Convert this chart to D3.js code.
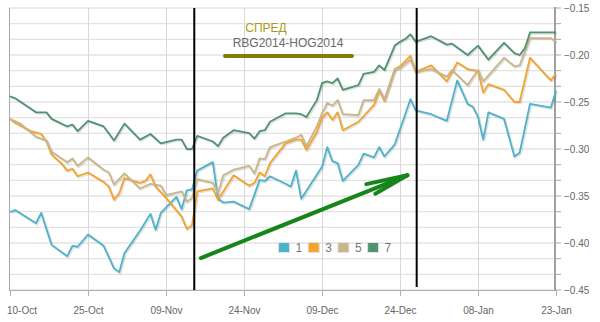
<!DOCTYPE html>
<html><head><meta charset="utf-8">
<script src="https://cdn.jsdelivr.net/npm/d3@7"></script>
<style>
html,body{margin:0;padding:0;background:#fff;}
svg{display:block;font-family:"Liberation Sans",Arial,sans-serif;}
</style></head>
<body>
<svg id="chart" width="600" height="322"></svg>
<script>
// ---------------- data ----------------
const seriesNames = ["1", "3", "5", "7"];
const seriesColors = ["#4cb3cd", "#f5a32c", "#c9b689", "#4f9471"];

const series1 = [
 ["2013-10-10",-0.367],["2013-10-11",-0.365],["2013-10-15",-0.379],["2013-10-16",-0.368],["2013-10-18",-0.402],
 ["2013-10-21",-0.414],["2013-10-22",-0.403],["2013-10-23",-0.404],["2013-10-25",-0.391],["2013-10-28",-0.403],
 ["2013-10-30",-0.427],["2013-10-31",-0.431],["2013-11-01",-0.411],["2013-11-04",-0.387],["2013-11-06",-0.369],
 ["2013-11-07",-0.386],["2013-11-08",-0.368],["2013-11-11",-0.351],["2013-11-12",-0.364],["2013-11-13",-0.344],
 ["2013-11-14",-0.343],["2013-11-15",-0.323],["2013-11-18",-0.314],["2013-11-19",-0.353],["2013-11-20",-0.357],
 ["2013-11-22",-0.356],["2013-11-25",-0.364],["2013-11-27",-0.333],["2013-11-28",-0.334],["2013-11-29",-0.329],
 ["2013-12-02",-0.337],["2013-12-03",-0.340],["2013-12-04",-0.323],["2013-12-05",-0.353],["2013-12-09",-0.319],
 ["2013-12-10",-0.298],["2013-12-11",-0.313],["2013-12-12",-0.315],["2013-12-13",-0.334],["2013-12-16",-0.317],
 ["2013-12-17",-0.305],["2013-12-19",-0.309],["2013-12-20",-0.298],["2013-12-21",-0.308],["2013-12-23",-0.295],
 ["2013-12-26",-0.247],["2013-12-27",-0.259],["2013-12-30",-0.263],["2014-01-02",-0.270],["2014-01-04",-0.227],
 ["2014-01-06",-0.252],["2014-01-07",-0.255],["2014-01-08",-0.266],["2014-01-09",-0.290],["2014-01-10",-0.261],
 ["2014-01-13",-0.268],["2014-01-15",-0.308],["2014-01-16",-0.304],["2014-01-18",-0.252],["2014-01-22",-0.256],
 ["2014-01-23",-0.238]
];
const series3 = [
 ["2013-10-10",-0.268],["2013-10-11",-0.272],["2013-10-14",-0.281],["2013-10-16",-0.284],["2013-10-17",-0.292],
 ["2013-10-18",-0.306],["2013-10-20",-0.316],["2013-10-21",-0.323],["2013-10-22",-0.321],["2013-10-23",-0.329],
 ["2013-10-25",-0.325],["2013-10-28",-0.335],["2013-10-29",-0.340],["2013-10-30",-0.354],["2013-10-31",-0.347],
 ["2013-11-01",-0.331],["2013-11-04",-0.336],["2013-11-05",-0.334],["2013-11-06",-0.327],["2013-11-07",-0.340],
 ["2013-11-09",-0.352],["2013-11-12",-0.372],["2013-11-13",-0.385],["2013-11-14",-0.381],["2013-11-15",-0.345],
 ["2013-11-18",-0.342],["2013-11-19",-0.354],["2013-11-22",-0.328],["2013-11-25",-0.339],["2013-11-26",-0.336],
 ["2013-11-27",-0.325],["2013-11-28",-0.329],["2013-11-29",-0.315],["2013-12-02",-0.294],["2013-12-04",-0.290],
 ["2013-12-05",-0.290],["2013-12-06",-0.301],["2013-12-08",-0.282],["2013-12-09",-0.267],["2013-12-10",-0.261],
 ["2013-12-11",-0.269],["2013-12-12",-0.261],["2013-12-13",-0.280],["2013-12-16",-0.271],["2013-12-19",-0.253],
 ["2013-12-20",-0.238],["2013-12-21",-0.249],["2013-12-23",-0.215],["2013-12-24",-0.212],["2013-12-26",-0.201],
 ["2013-12-27",-0.218],["2013-12-30",-0.211],["2014-01-02",-0.228],["2014-01-04",-0.208],["2014-01-06",-0.215],
 ["2014-01-08",-0.217],["2014-01-09",-0.240],["2014-01-10",-0.231],["2014-01-13",-0.237],["2014-01-15",-0.250],
 ["2014-01-16",-0.250],["2014-01-18",-0.203],["2014-01-22",-0.227],["2014-01-23",-0.220]
];
const series5 = [
 ["2013-10-10",-0.268],["2013-10-12",-0.273],["2013-10-15",-0.287],["2013-10-17",-0.291],["2013-10-18",-0.303],
 ["2013-10-21",-0.314],["2013-10-22",-0.310],["2013-10-23",-0.318],["2013-10-25",-0.309],["2013-10-28",-0.322],
 ["2013-10-29",-0.325],["2013-10-30",-0.338],["2013-11-01",-0.326],["2013-11-04",-0.342],["2013-11-06",-0.337],
 ["2013-11-08",-0.339],["2013-11-09",-0.349],["2013-11-12",-0.345],["2013-11-13",-0.356],["2013-11-14",-0.352],
 ["2013-11-15",-0.332],["2013-11-18",-0.336],["2013-11-19",-0.347],["2013-11-20",-0.328],["2013-11-22",-0.322],
 ["2013-11-25",-0.318],["2013-11-26",-0.326],["2013-11-27",-0.310],["2013-11-28",-0.311],["2013-11-29",-0.298],
 ["2013-12-02",-0.292],["2013-12-04",-0.288],["2013-12-05",-0.285],["2013-12-06",-0.297],["2013-12-08",-0.276],
 ["2013-12-09",-0.262],["2013-12-10",-0.251],["2013-12-11",-0.254],["2013-12-12",-0.248],["2013-12-13",-0.263],
 ["2013-12-16",-0.264],["2013-12-17",-0.248],["2013-12-19",-0.248],["2013-12-20",-0.236],["2013-12-21",-0.247],
 ["2013-12-23",-0.215],["2013-12-24",-0.214],["2013-12-26",-0.205],["2013-12-27",-0.218],["2013-12-30",-0.215],
 ["2014-01-02",-0.223],["2014-01-03",-0.216],["2014-01-06",-0.232],["2014-01-08",-0.216],["2014-01-09",-0.228],
 ["2014-01-13",-0.203],["2014-01-15",-0.212],["2014-01-16",-0.211],["2014-01-18",-0.182],["2014-01-22",-0.182],
 ["2014-01-23",-0.186]
];
const series7 = [
 ["2013-10-10",-0.244],["2013-10-11",-0.246],["2013-10-15",-0.261],["2013-10-17",-0.261],["2013-10-18",-0.268],
 ["2013-10-21",-0.276],["2013-10-22",-0.274],["2013-10-23",-0.281],["2013-10-25",-0.270],["2013-10-28",-0.276],
 ["2013-10-30",-0.291],["2013-11-01",-0.273],["2013-11-04",-0.290],["2013-11-06",-0.284],["2013-11-08",-0.294],
 ["2013-11-11",-0.290],["2013-11-12",-0.290],["2013-11-13",-0.300],["2013-11-14",-0.300],["2013-11-15",-0.286],
 ["2013-11-18",-0.292],["2013-11-19",-0.297],["2013-11-20",-0.288],["2013-11-22",-0.280],["2013-11-25",-0.283],
 ["2013-11-26",-0.289],["2013-11-27",-0.281],["2013-11-28",-0.280],["2013-11-29",-0.271],["2013-12-02",-0.262],
 ["2013-12-04",-0.262],["2013-12-05",-0.263],["2013-12-06",-0.266],["2013-12-08",-0.248],["2013-12-09",-0.230],
 ["2013-12-10",-0.228],["2013-12-11",-0.230],["2013-12-12",-0.225],["2013-12-13",-0.237],["2013-12-16",-0.232],
 ["2013-12-17",-0.220],["2013-12-19",-0.218],["2013-12-20",-0.211],["2013-12-21",-0.216],["2013-12-22",-0.203],
 ["2013-12-23",-0.190],["2013-12-24",-0.186],["2013-12-25",-0.183],["2013-12-26",-0.178],["2013-12-27",-0.186],
 ["2013-12-30",-0.180],["2014-01-02",-0.189],["2014-01-03",-0.188],["2014-01-06",-0.200],["2014-01-08",-0.190],
 ["2014-01-10",-0.205],["2014-01-13",-0.187],["2014-01-15",-0.198],["2014-01-16",-0.200],["2014-01-17",-0.193],
 ["2014-01-18",-0.176],["2014-01-23",-0.176]
];

const xDomain = ["2013-10-10", "2014-01-23"];
const xTickDates = ["2013-10-10","2013-10-25","2013-11-09","2013-11-24","2013-12-09","2013-12-24","2014-01-08","2014-01-23"];
const yDomain = [-0.45, -0.15];
const yTickLabels = [-0.15, -0.20, -0.25, -0.30, -0.35, -0.40, -0.45];
const yMinorStep = 0.05 / 3;
const markerDates = ["2013-11-14T10:30", "2013-12-27T05:00"];
const arrowFrom = ["2013-11-15T17:00", -0.416];
const arrowTo = ["2013-12-25T10:00", -0.328];
const titleLines = ["СПРЕД", "RBG2014-HOG2014"];

// ---------------- drawing ----------------
const parseD = d3.timeParse("%Y-%m-%d");
const parseDT = d3.timeParse("%Y-%m-%dT%H:%M");
const svg = d3.select("#chart");
const PL = 10, PR = 556, PT = 8, PB = 290;

const x = d3.scaleTime().domain(xDomain.map(parseD)).range([PL, PR]);
const y = d3.scaleLinear().domain(yDomain).range([PB, PT]);

const gridVals = d3.range(0, 19).map(i => yDomain[0] + i * yMinorStep);

// horizontal grid
svg.append("g").selectAll("line").data(gridVals).join("line")
  .attr("x1", PL - 1).attr("x2", PR - 1)
  .attr("y1", d => y(d)).attr("y2", d => y(d))
  .attr("stroke", "#e3e3e3").attr("stroke-width", 1.3);

// vertical grid
svg.append("g").selectAll("line").data(xTickDates.slice(1, -1).map(parseD)).join("line")
  .attr("x1", d => Math.round(x(d)) + 0.5).attr("x2", d => Math.round(x(d)) + 0.5)
  .attr("y1", PT).attr("y2", PB)
  .attr("stroke", "#d8d8d8").attr("stroke-width", 1);

// left border and bottom axis line
svg.append("line").attr("x1", 9.5).attr("x2", 9.5).attr("y1", PT).attr("y2", PB + 1)
  .attr("stroke", "#a8a8a8");
svg.append("line").attr("x1", 9).attr("x2", PR).attr("y1", PB + 0.5).attr("y2", PB + 0.5)
  .attr("stroke", "#b0b0b0");

// x axis
const xAxis = d3.axisBottom(x).tickValues(xTickDates.map(parseD))
  .tickFormat(d3.timeFormat("%d-%b")).tickSize(6).tickPadding(11);
const gx = svg.append("g").attr("transform", `translate(0,${PB})`).call(xAxis);
gx.select(".domain").remove();
gx.selectAll(".tick line").attr("stroke", "#b0b0b0");
gx.selectAll(".tick text").attr("fill", "#666").attr("font-size", 10)
  .attr("font-family", '"Liberation Sans",Arial,sans-serif');
gx.selectAll(".tick text").each(function() {
  const t = d3.select(this);
  const bb = this.getBBox();
  const tr = this.parentNode.getAttribute("transform");
  const tx = +tr.match(/translate\(([-\d.]+)/)[1];
  if (tx + bb.x < 7) t.attr("x", 7 - tx).attr("text-anchor", "start");
});

// right y axis
svg.append("line").attr("x1", 555).attr("x2", 555).attr("y1", PT - 1).attr("y2", PB + 1)
  .attr("stroke", "#a0a0a0").attr("stroke-width", 2);
svg.append("g").selectAll("line").data(gridVals).join("line")
  .attr("x1", 555).attr("x2", 561)
  .attr("y1", d => y(d)).attr("y2", d => y(d))
  .attr("stroke", "#a8a8a8").attr("stroke-width", 1);
svg.append("g").selectAll("text").data(yTickLabels).join("text")
  .attr("x", 564).attr("y", d => y(d)).attr("dy", "0.35em")
  .attr("font-size", 10).attr("fill", "#666")
  .text(d => d3.format(".2f")(d));

// series
const allSeries = [series1, series3, series5, series7];
const line = d3.line().x(d => x(parseD(d[0]))).y(d => y(d[1]));
const gLines = svg.append("g");
allSeries.forEach((s, i) => {
  gLines.append("path").attr("d", line(s)).attr("fill", "none")
    .attr("stroke", "#000").attr("stroke-opacity", 0.12).attr("stroke-width", 2.5)
    .attr("stroke-linejoin", "round").attr("transform", "translate(1,1)");
});
allSeries.forEach((s, i) => {
  gLines.append("path").attr("d", line(s)).attr("fill", "none")
    .attr("stroke", seriesColors[i]).attr("stroke-width", 1.8)
    .attr("stroke-linejoin", "round");
});

// black vertical markers
markerDates.forEach((m, i) => {
  const mx = x(parseDT(m));
  svg.append("line").attr("x1", mx).attr("x2", mx)
    .attr("y1", PT).attr("y2", i === 0 ? PB : PB - 3)
    .attr("stroke", "#000").attr("stroke-width", 2);
});

// title
svg.append("text").attr("x", 266).attr("y", 32).attr("text-anchor", "middle")
  .attr("font-size", 12).attr("fill", "#a99b17").text(titleLines[0]);
svg.append("text").attr("x", 288).attr("y", 46.5).attr("text-anchor", "middle")
  .attr("font-size", 12).attr("fill", "#6a6a6a").text(titleLines[1]);
svg.append("line").attr("x1", 225).attr("x2", 352).attr("y1", 56).attr("y2", 56)
  .attr("stroke", "#837c00").attr("stroke-width", 4).attr("stroke-linecap", "round");

// arrow
const ax1 = x(parseDT(arrowFrom[0])), ay1 = y(arrowFrom[1]);
const ax2 = x(parseDT(arrowTo[0])), ay2 = y(arrowTo[1]);
const ang = Math.atan2(ay1 - ay2, ax1 - ax2);
const gA = svg.append("g").attr("stroke", "#17861a").attr("stroke-width", 4)
  .attr("stroke-linecap", "round").attr("fill", "none");
gA.append("line").attr("x1", ax1).attr("y1", ay1).attr("x2", ax2).attr("y2", ay2);
[[0.17, 42], [-0.14, 37]].forEach(([da, len]) => {
  gA.append("line").attr("x1", ax2).attr("y1", ay2)
    .attr("x2", ax2 + len * Math.cos(ang + da)).attr("y2", ay2 + len * Math.sin(ang + da));
});

// legend
const gL = svg.append("g");
seriesNames.forEach((n, i) => {
  const lx = 278.5 + i * 29.7;
  gL.append("rect").attr("x", lx).attr("y", 242.5).attr("width", 11).attr("height", 10)
    .attr("fill", seriesColors[i]).attr("stroke", "#e2e2e2").attr("stroke-width", 1);
  gL.append("text").attr("x", lx + 17).attr("y", 252).attr("font-size", 12)
    .attr("fill", "#777").text(n);
});
</script>
</body></html>
